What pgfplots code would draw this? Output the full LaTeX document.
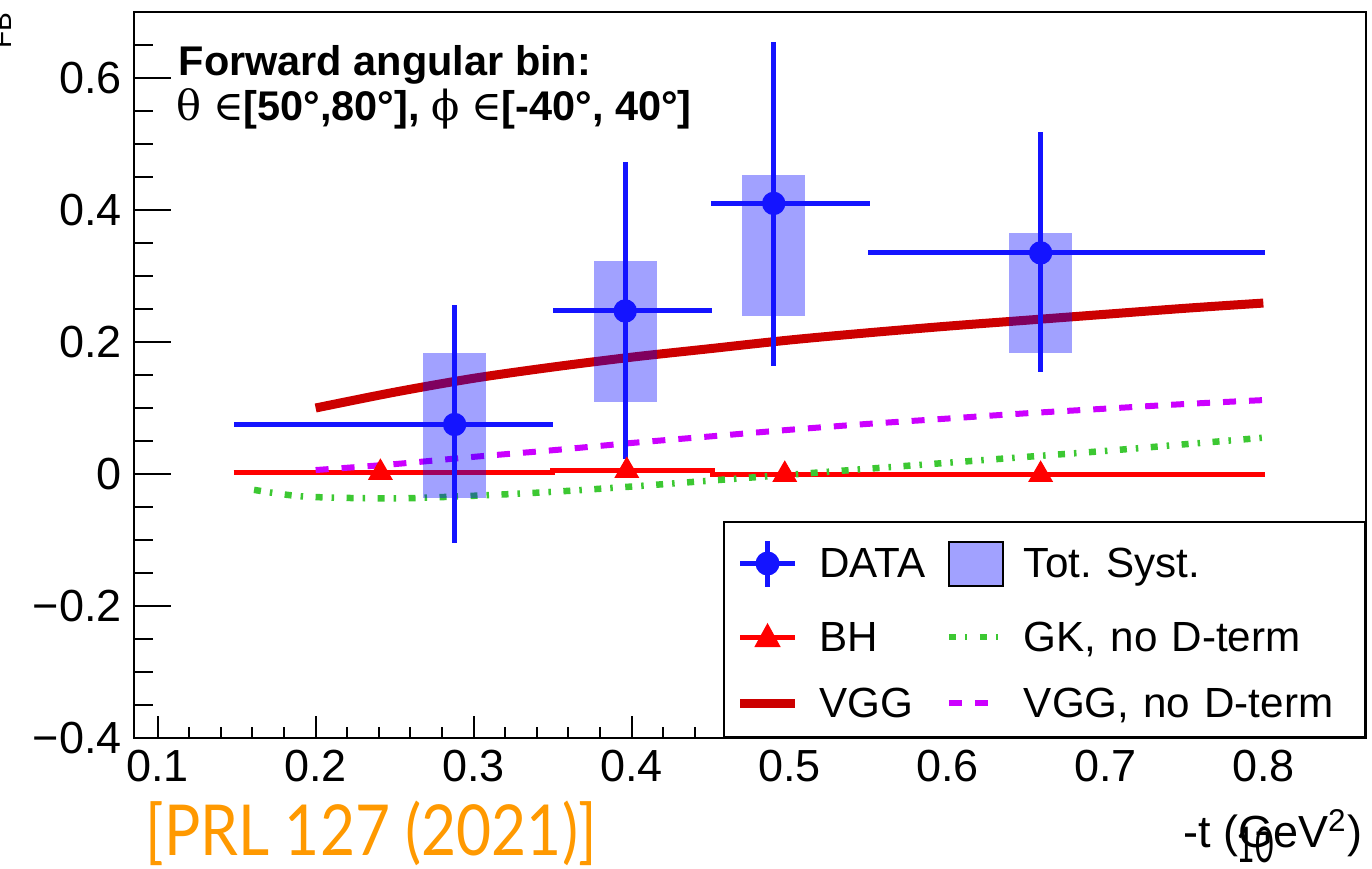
\documentclass[border=0pt]{standalone}
\usepackage{fontspec}
\setmainfont{Liberation Sans}
\newfontfamily\latofont{Lato}
\newfontfamily\symf{DejaVu Serif}
\usepackage{pgfplots}
\pgfplotsset{compat=1.18}
\usetikzlibrary{calc}
\definecolor{datablue}{RGB}{20,20,255}
\definecolor{systblue}{RGB}{161,161,255}
\definecolor{vggred}{RGB}{204,0,0}
\definecolor{bhred}{RGB}{255,0,0}
\definecolor{gkgreen}{RGB}{60,200,50}
\definecolor{vggmag}{RGB}{204,0,255}
\definecolor{prlorange}{RGB}{255,153,0}
\begin{document}
\begin{tikzpicture}
\begin{axis}[
  scale only axis, width=123.2mm, height=72.6mm,
  at={(0,0)}, anchor=south west,
  xmin=0.085, xmax=0.865, ymin=-0.4, ymax=0.7,
  axis line style={line width=0.2mm, black},
  tick style={line width=0.2mm, black},
  tick align=inside, tick pos=left,
  major tick length=3.7mm, minor tick length=1.85mm,
  xtick style={/pgfplots/major tick length=2.2mm, /pgfplots/minor tick length=1.1mm},
  xtick={0.1,0.2,0.3,0.4,0.5,0.6,0.7,0.8},
  xticklabels={0.1,0.2,0.3,0.4,0.5,0.6,0.7,0.8},
  ytick={-0.4,-0.2,0,0.2,0.4,0.6},
  yticklabels={−0.4,−0.2,0,0.2,0.4,0.6},
  minor xtick={0.12,0.14,0.16,0.18,0.22,0.24,0.26,0.28,0.32,0.34,0.36,0.38,0.42,0.44,0.46,0.48,0.52,0.54,0.56,0.58,0.62,0.64,0.66,0.68,0.72,0.74,0.76,0.78,0.82,0.84,0.86},
  minor ytick={-0.35,-0.3,-0.25,-0.15,-0.1,-0.05,0.05,0.1,0.15,0.25,0.3,0.35,0.45,0.5,0.55,0.65},
  tick label style={font=\fontsize{12.8}{15}\selectfont},
  legend style={
    at={(rel axis cs:1,0)}, anchor=south east,
    draw=black, line width=0.2mm, fill=white,
    inner xsep=1.2mm, inner ysep=1.6mm,
    font=\fontsize{12}{14}\selectfont,
    row sep=3.0mm,
    nodes={inner sep=0pt, text height=3.2mm, text depth=0.4mm},
    /tikz/every odd column/.append style={column sep=2.0mm},
    /tikz/every even column/.append style={column sep=2.0mm},
    /tikz/column 4/.style={nodes={text width=32.9mm}},
  },
  legend cell align=left,
  legend columns=2,
]
\coordinate (SW) at (rel axis cs:0,0);

% legend entries
\addlegendimage{legend image code/.code={
  \draw[datablue, line width=0.5mm] (0mm,0mm) -- (5.5mm,0mm);
  \draw[datablue, line width=0.5mm] (2.75mm,-2.3mm) -- (2.75mm,2.3mm);
  \fill[datablue] (2.75mm,0mm) circle (1.1mm);}}
\addlegendentry{DATA}
\addlegendimage{legend image code/.code={
  \draw[black, line width=0.2mm, fill=systblue] (0mm,-2.2mm) rectangle (5.4mm,2.2mm);}}
\addlegendentry{Tot.\ Syst.}
\addlegendimage{legend image code/.code={
  \draw[bhred, line width=0.5mm] (0mm,0mm) -- (5.5mm,0mm);
  \fill[bhred] (1.6mm,-0.9mm) -- (3.9mm,-0.9mm) -- (2.75mm,1.2mm) -- cycle;}}
\addlegendentry{BH}
\addlegendimage{legend image code/.code={
  \draw[gkgreen, line width=0.65mm, dash pattern=on 0.7mm off 0.9mm on 0.25mm off 1.25mm] (0mm,0mm) -- (5.0mm,0mm);}}
\addlegendentry{GK, no D-term}
\addlegendimage{legend image code/.code={
  \draw[vggred, line width=0.9mm] (0mm,0mm) -- (5.5mm,0mm);}}
\addlegendentry{VGG}
\addlegendimage{legend image code/.code={
  \draw[vggmag, line width=0.6mm, dash pattern=on 1.3mm off 1.3mm] (0mm,0mm) -- (5.0mm,0mm);}}
\addlegendentry{VGG, no D-term}

% BH step line
\addplot[forget plot, bhred, line width=0.5mm, const plot] coordinates {
 (0.148,0.002) (0.350,0.005) (0.451,-0.001) (0.801,-0.001)};
\addplot[forget plot, only marks, mark=triangle*, mark size=1.3mm, bhred] coordinates {
 (0.241,0.002) (0.397,0.005) (0.497,-0.001) (0.659,-0.001)};

% GK, no D-term
\addplot[forget plot, gkgreen, line width=0.65mm, smooth, dash pattern=on 0.7mm off 0.9mm on 0.25mm off 1.25mm] coordinates {
 (0.161,-0.024) (0.18,-0.031) (0.2,-0.035) (0.25,-0.037) (0.3,-0.033) (0.35,-0.027)
 (0.4,-0.019) (0.45,-0.010) (0.5,-0.001) (0.55,0.008) (0.6,0.017) (0.65,0.026)
 (0.7,0.035) (0.75,0.045) (0.8,0.055)};

% VGG, no D-term
\addplot[forget plot, vggmag, line width=0.6mm, smooth, dash pattern=on 1.3mm off 1.3mm] coordinates {
 (0.2,0.006) (0.25,0.015) (0.3,0.026) (0.35,0.036) (0.4,0.047) (0.45,0.057)
 (0.5,0.067) (0.55,0.076) (0.6,0.084) (0.65,0.092) (0.7,0.099) (0.75,0.106) (0.8,0.112)};

% VGG
\addplot[forget plot, vggred, line width=0.9mm, smooth] coordinates {
 (0.2,0.100) (0.25,0.124) (0.3,0.145) (0.35,0.162) (0.4,0.177) (0.45,0.190)
 (0.5,0.203) (0.55,0.214) (0.6,0.224) (0.65,0.233) (0.7,0.242) (0.75,0.251) (0.8,0.259)};

% systematic boxes
\addplot[forget plot, draw=none, fill=blue, fill opacity=0.37] coordinates {(0.268,-0.036) (0.308,-0.036) (0.308,0.183) (0.268,0.183)} -- cycle;
\addplot[forget plot, draw=none, fill=blue, fill opacity=0.37] coordinates {(0.376,0.109) (0.416,0.109) (0.416,0.323) (0.376,0.323)} -- cycle;
\addplot[forget plot, draw=none, fill=blue, fill opacity=0.37] coordinates {(0.470,0.239) (0.510,0.239) (0.510,0.453) (0.470,0.453)} -- cycle;
\addplot[forget plot, draw=none, fill=blue, fill opacity=0.37] coordinates {(0.639,0.183) (0.679,0.183) (0.679,0.365) (0.639,0.365)} -- cycle;

% data
\addplot[forget plot, datablue, only marks, mark=*, mark size=1.1mm,
  error bars/.cd, x dir=both, x explicit, y dir=both, y explicit,
  error bar style={line width=0.5mm, datablue}, error mark=none]
  table[x=x, y=y, x error minus=exm, x error plus=exp, y error minus=eym, y error plus=eyp] {
 x      y      exm    exp    eym    eyp
 0.288  0.075  0.140  0.062  0.180  0.181
 0.396  0.247  0.046  0.055  0.225  0.226
 0.490  0.410  0.040  0.061  0.246  0.245
 0.659  0.335  0.109  0.142  0.180  0.183
};

\node[anchor=base west, inner sep=0pt, font=\bfseries\fontsize{11.8}{14}\selectfont] at (rel axis cs:0.0357,0.912) {Forward angular bin:};
\node[anchor=base west, inner sep=0pt, font=\bfseries\fontsize{11.8}{14}\selectfont] at (rel axis cs:0.0340,0.850)
  {{\mdseries\symf θ} {\mdseries\symf ∈}[50°,80°], {\mdseries\symf ϕ} {\mdseries\symf ∈}[-40°, 40°]};
\end{axis}

% axis titles and extra slide texts
\node[rotate=90, anchor=base east, inner sep=0pt, font=\fontsize{8}{9}\selectfont] at ($(SW)+(-12.2mm,72.6mm)$) {FB};
\node[anchor=base east, inner sep=0pt, font=\fontsize{12.8}{15}\selectfont] at ($(SW)+(122.9mm,-10.9mm)$) {-t (GeV\textsuperscript{2})};
\node[anchor=base, inner sep=0pt, font=\latofont\fontsize{14}{16}\selectfont] at ($(SW)+(112.1mm,-12.4mm)$) {\scalebox{0.65}[1]{10}};
\node[anchor=base west, inner sep=0pt, text=prlorange, font=\latofont\fontsize{20}{24}\selectfont] at ($(SW)+(1.1mm,-11.7mm)$) {\scalebox{0.86}[1]{[PRL 127 (2021)]}};

\pgfresetboundingbox
\path[use as bounding box] ($(SW)+(-13.4mm,-13.0mm)$) rectangle ($(SW)+(123.8mm,73.8mm)$);
\end{tikzpicture}
\end{document}
